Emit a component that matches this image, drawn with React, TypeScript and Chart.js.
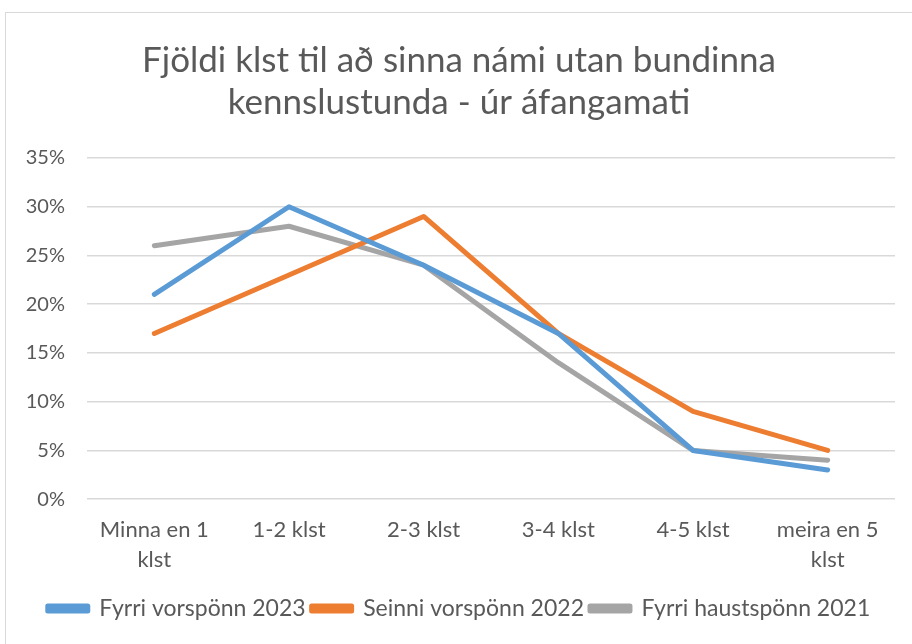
import React, { useEffect, useRef } from "react";
import { Chart, registerables } from "chart.js";

Chart.register(...registerables);

const categories: (string | string[])[] = [
  ["Minna en 1", "klst"],
  "1-2 klst",
  "2-3 klst",
  "3-4 klst",
  "4-5 klst",
  ["meira en 5", "klst"],
];
const fyrriVor2023 = [21, 30, 24, 17, 5, 3];
const seinniVor2022 = [17, 23, 29, 17, 9, 5];
const fyrriHaust2021 = [26, 28, 24, 14, 5, 4];
const titleLines = ["Fjöldi klst til að sinna námi utan bundinna", "kennslustunda - úr áfangamati"];

const FONT = "Lato, 'Open Sans', sans-serif";
const TEXT = "#595959";

export default function App() {
  const ref = useRef<HTMLCanvasElement | null>(null);
  useEffect(() => {
    if (!ref.current) return;
    const mk = (label: string, data: number[], color: string) => ({
      label,
      data,
      borderColor: color,
      backgroundColor: color,
      borderWidth: 5,
      borderCapStyle: "round" as const,
      borderJoinStyle: "round" as const,
      pointRadius: 0,
      pointHoverRadius: 0,
      tension: 0,
    });
    const chart = new Chart(ref.current, {
      type: "line",
      data: {
        labels: categories,
        datasets: [
          mk("Fyrri vorspönn 2023", fyrriVor2023, "#5B9BD5"),
          mk("Seinni vorspönn 2022", seinniVor2022, "#ED7D31"),
          mk("Fyrri haustspönn 2021", fyrriHaust2021, "#A5A5A5"),
        ],
      },
      options: {
        animation: false,
        responsive: false,
        maintainAspectRatio: false,
        layout: { padding: { left: 23, right: 17, top: 0, bottom: 14 } },
        plugins: {
          tooltip: { enabled: false },
          title: {
            display: true,
            text: titleLines,
            color: TEXT,
            font: { family: FONT, size: 35, weight: "normal", lineHeight: 1.2 },
            padding: { top: 40, bottom: 34 },
          },
          legend: {
            position: "bottom",
            labels: {
              color: TEXT,
              font: { family: FONT, size: 23 },
              boxWidth: 40,
              boxHeight: 5,
              padding: 6,
            },
          },
        },
        scales: {
          x: {
            offset: true,
            grid: { display: false, drawTicks: false },
            border: { display: false },
            ticks: {
              color: TEXT,
              font: { family: FONT, size: 22, lineHeight: 1.36 },
              padding: 16,
              maxRotation: 0,
              autoSkip: false,
            },
          },
          y: {
            min: 0,
            max: 35,
            grid: { color: "#D9D9D9", lineWidth: 1.5, drawTicks: false },
            border: { display: false },
            afterFit: (scale: any) => {
              scale.width = 64;
            },
            ticks: {
              stepSize: 5,
              color: TEXT,
              font: { family: FONT, size: 20 },
              padding: 22,
              callback: (v: any) => v + "%",
            },
          },
        },
      },
    });
    return () => chart.destroy();
  }, []);
  return (
    <div style={{ position: "fixed", left: 0, top: 0, width: 912, height: 644, background: "#fff", overflow: "hidden" }}>
      <div
        style={{
          position: "absolute",
          left: 5,
          top: 12,
          width: 940,
          height: 700,
          border: "1px solid #D9D9D9",
          boxSizing: "border-box",
        }}
      />
      <canvas ref={ref} width={912} height={644} style={{ position: "absolute", left: 0, top: 0 }} />
    </div>
  );
}
